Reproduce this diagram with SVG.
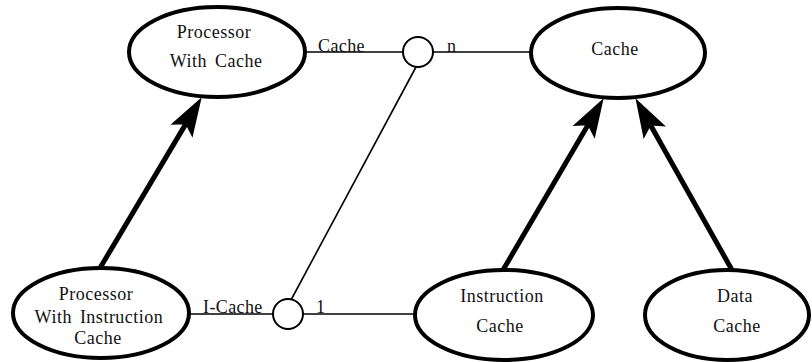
<svg xmlns="http://www.w3.org/2000/svg" width="812" height="362" viewBox="0 0 812 362">
<style>
.node ellipse{fill:#fff;stroke:#000;stroke-width:4}
.t{font-family:"Liberation Serif","Times New Roman",serif;font-size:18px;fill:#111;text-anchor:middle;letter-spacing:0.5px;word-spacing:3px}
.lbl{font-family:"Liberation Serif","Times New Roman",serif;font-size:18px;fill:#111;letter-spacing:0.4px}
.thin{stroke:#000;stroke-width:1.6;fill:none}
.joint{fill:#fff;stroke:#000;stroke-width:2}
.isa{stroke:#000;stroke-width:5;fill:none;marker-end:url(#head)}
</style>
<defs>
<marker id="head" markerUnits="userSpaceOnUse" orient="auto" refX="0" refY="0" markerWidth="60" markerHeight="40" overflow="visible">
<path d="M22,0 L-12,-11 L-5,0 L-12,11 Z" fill="#000" stroke="#000" stroke-width="2" stroke-linejoin="miter"/>
</marker>
</defs>
<rect width="812" height="362" fill="#fff"/>
<g id="connectors">
<line class="thin" x1="305" y1="52" x2="403" y2="52"/>
<line class="thin" x1="433" y1="52" x2="531" y2="52"/>
<line class="thin" x1="190" y1="314" x2="273" y2="314"/>
<line class="thin" x1="303" y1="314" x2="415" y2="314"/>
<line class="thin" x1="416" y1="67" x2="291" y2="300"/>
<circle class="joint" cx="418" cy="52" r="15"/>
<circle class="joint" cx="288" cy="314" r="15"/>
<text class="lbl" x="318" y="52">Cache</text>
<text class="lbl" x="447" y="52">n</text>
<text class="lbl" x="203" y="313">I-Cache</text>
<text class="lbl" x="316" y="313">1</text>
<path class="isa" d="M100,268 L188.8,118.9"/>
<path class="isa" d="M503,270 L590.9,120"/>
<path class="isa" d="M732,270 L647.8,120.2"/>
</g>
<g id="processor-with-cache" class="node">
<ellipse cx="217" cy="52" rx="88" ry="45"/>
<text class="t" x="214" y="38">Processor</text>
<text class="t" x="216" y="67">With Cache</text>
</g>
<g id="cache" class="node">
<ellipse cx="618" cy="53" rx="87" ry="45"/>
<text class="t" x="615" y="55">Cache</text>
</g>
<g id="processor-with-instruction-cache" class="node">
<ellipse cx="101" cy="313" rx="88" ry="45"/>
<text class="t" x="96" y="300">Processor</text>
<text class="t" x="99" y="323">With Instruction</text>
<text class="t" x="98" y="344">Cache</text>
</g>
<g id="instruction-cache" class="node">
<ellipse cx="504" cy="315" rx="89" ry="45"/>
<text class="t" x="502" y="302">Instruction</text>
<text class="t" x="500" y="332">Cache</text>
</g>
<g id="data-cache" class="node">
<ellipse cx="727" cy="315" rx="82" ry="45"/>
<text class="t" x="735" y="302">Data</text>
<text class="t" x="737" y="332">Cache</text>
</g>
</svg>
